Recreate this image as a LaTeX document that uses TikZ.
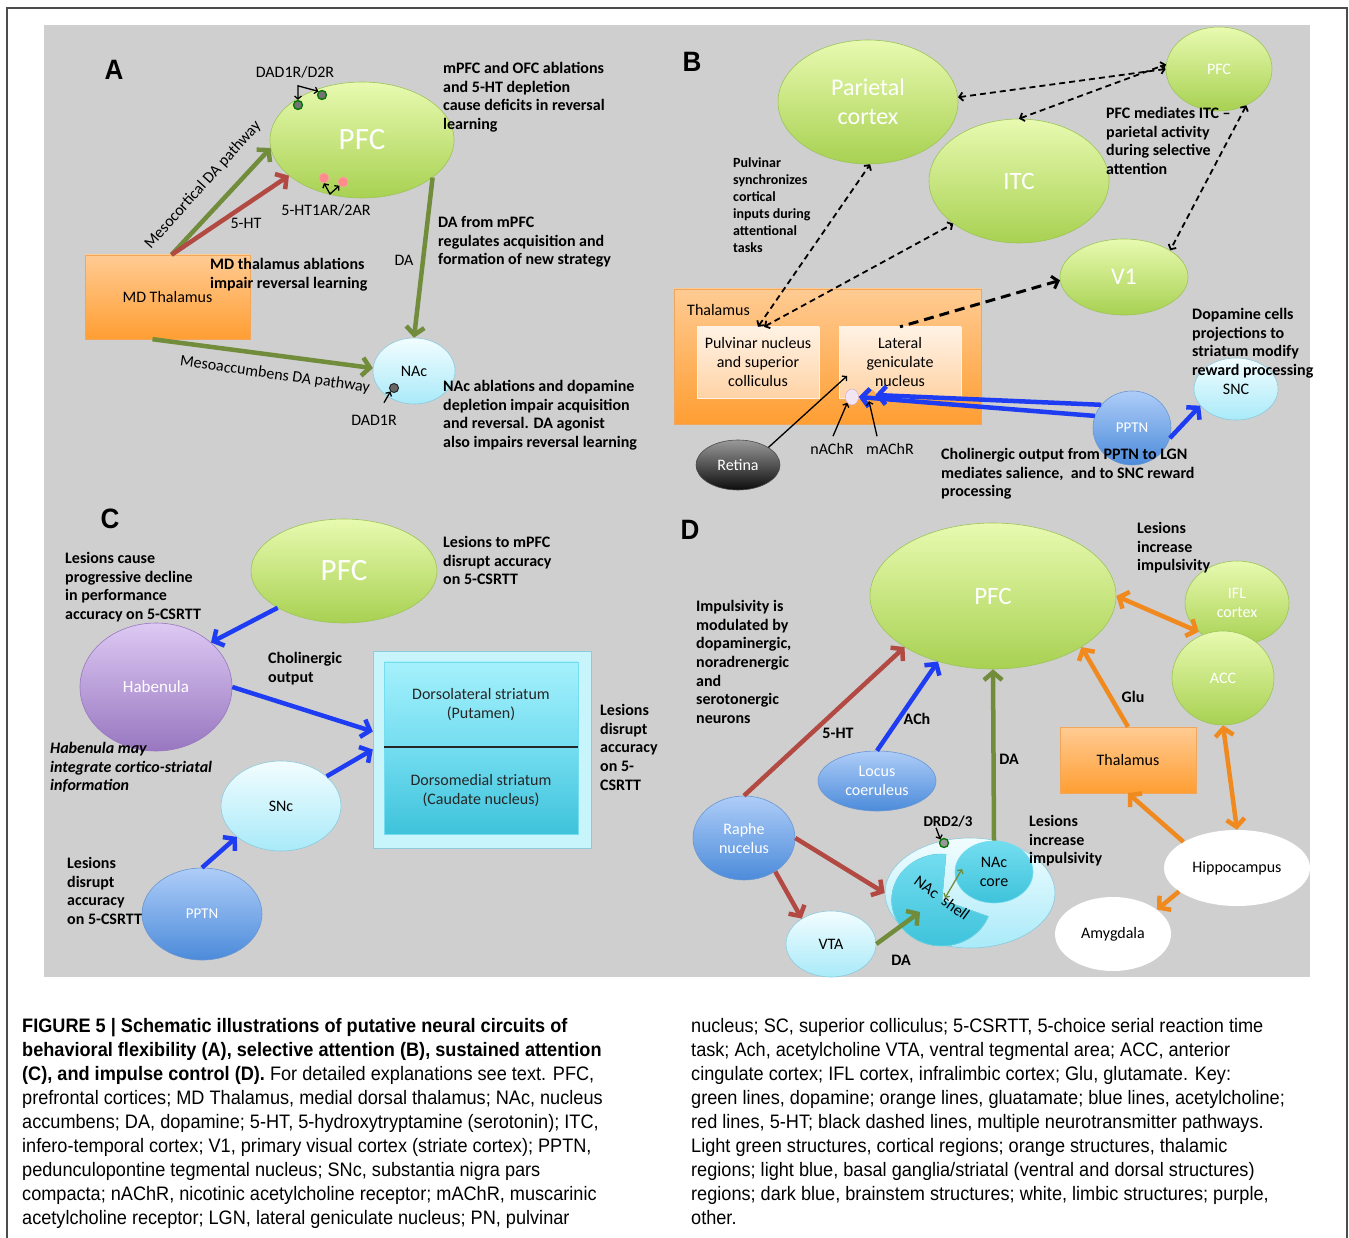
\documentclass[tikz,border=0pt]{standalone}
\usepackage{fontspec}
\setmainfont{Carlito}
\newfontfamily\capfont{Liberation Sans}[FakeStretch=0.93]
\usetikzlibrary{shapes.geometric,arrows.meta}

\definecolor{panelgray}{HTML}{CFCFCF}
\definecolor{grntop}{HTML}{E8FAB0}
\definecolor{grnbot}{HTML}{A8D152}
\definecolor{grnline}{HTML}{9CC45A}
\definecolor{ortop}{HTML}{FFCB93}
\definecolor{orbot}{HTML}{FF9E33}
\definecolor{orline}{HTML}{F2A65A}
\definecolor{lbtop}{HTML}{F2FDFF}
\definecolor{lbbot}{HTML}{A9EAF9}
\definecolor{lbline}{HTML}{8CCADC}
\definecolor{dbtop}{HTML}{AECDF8}
\definecolor{dbbot}{HTML}{4C8BDA}
\definecolor{dbline}{HTML}{6A97D2}
\definecolor{purtop}{HTML}{DDC9F3}
\definecolor{purbot}{HTML}{9877C0}
\definecolor{cytop}{HTML}{A5F1FC}
\definecolor{cymid}{HTML}{74DDF0}
\definecolor{cybot}{HTML}{3EC3DB}
\definecolor{cyout}{HTML}{C8F5FC}
\definecolor{peachtop}{HTML}{FFF2E4}
\definecolor{peachbot}{HTML}{FFD3A6}
\definecolor{daline}{HTML}{718D3B}
\definecolor{htline}{HTML}{B24A43}
\definecolor{achline}{HTML}{1E3DF2}
\definecolor{gluline}{HTML}{F08A1E}

\newcommand\fs[2]{\fontsize{#1}{#2}\selectfont}

\tikzset{
  >={Straight Barb[length=1pt 1.5,width=2pt 3.6]},
  region/.style={ellipse, inner sep=0pt, line width=0.6pt, align=center},
  cortex/.style={region, draw=grnline, top color=grntop, bottom color=grnbot, text=white},
  basal/.style={region, draw=lbline, top color=lbtop, bottom color=lbbot},
  brainstem/.style={region, draw=dbline, top color=dbtop, bottom color=dbbot, text=white},
  limbic/.style={region, fill=white},
  purple/.style={region, draw=purbot, top color=purtop, bottom color=purbot, text=white},
  retina/.style={region, draw=black!70, top color=black!40, bottom color=black!95, text=white},
  thalbox/.style={rectangle, inner sep=0pt, draw=orline, top color=ortop, bottom color=orbot, align=center},
  subbox/.style={rectangle, inner sep=0pt, draw=peachtop, top color=peachtop, bottom color=peachbot, align=center},
  rcpgreen/.style={circle, inner sep=0pt, minimum size=9pt, fill=black!55, draw=green!45!black, line width=1.3pt},
  rcpred/.style={circle, inner sep=0pt, minimum size=10pt, fill=red!45!white, draw=red!35!white},
  rcpdark/.style={circle, inner sep=0pt, minimum size=9pt, fill=black!60, draw=black!85, line width=1pt},
  note/.style={anchor=north west, align=left, inner sep=0pt, font=\bfseries\fs{16}{18.7}},
  lbl/.style={inner sep=0pt, font=\fs{16}{19}},
  panel/.style={inner sep=0pt, font=\capfont\bfseries\fs{28}{30}},
  da/.style={->, daline, line width=4.5pt},
  ht/.style={->, htline, line width=4.5pt},
  ach/.style={->, achline, line width=4.5pt},
  glu/.style={->, gluline, line width=4.5pt},
  multipath/.style={<->, black, line width=1.8pt, dash pattern=on 6pt off 4pt},
  pointer/.style={->, black, line width=1.3pt},
}

\begin{document}
\begin{tikzpicture}[x=1pt,y=-1pt]
  %%%%% PAGE %%%%%
  \useasboundingbox (0,0) rectangle (1349,1238);
  \fill[white] (0,0) rectangle (1349,1238);
  \draw[black!70, line width=1.5pt] (7,1238) -- (7,8) -- (1347,8) -- (1347,1238);
  \fill[panelgray] (44,25) rectangle (1310,977);

  %%%%% A %%%%%
  \node[panel] (labA) at (114,70) {A};
  \node[cortex, minimum width=184pt, minimum height=116pt, font=\fs{31}{33}] (pfcA) at (362,140) {PFC};
  \node[thalbox, minimum width=165pt, minimum height=84pt, font=\fs{16}{19}] (mdA) at (167.5,297) {MD Thalamus};
  \node[basal, minimum width=82pt, minimum height=66pt, font=\fs{16}{19}] (nacA) at (414,371) {NAc};

  \node[rcpgreen] (d1A) at (298,105) {};
  \node[rcpgreen] (d2A) at (322,95) {};
  \node[rcpred] (h1A) at (324,178) {};
  \node[rcpred] (h2A) at (343,182) {};
  \node[rcpdark] (daA) at (394,388) {};

  \node[lbl] (lblDd) at (295,72) {DAD1R/D2R};
  \node[lbl] (lblHt) at (326,210) {5-HT1AR/2AR};
  \node[lbl] (lblD1) at (374,420) {DAD1R};
  \draw[pointer, <->] (d1A.north) -- ++(0,-14) -- (d2A.north west);
  \draw[pointer, <->] (h1A.south) -- (330,194) -- (h2A.south west);
  \draw[pointer] ([xshift=10pt,yshift=12pt]lblD1.north) -- (daA.south west);

  \draw[da] ([xshift=4pt]mdA.north) -- (pfcA.185);
  \draw[ht] ([xshift=4pt]mdA.north) -- (pfcA.206);
  \draw[da] (pfcA.332) -- (nacA.north);
  \draw[da] ([xshift=-15pt]mdA.south) -- (nacA.176);

  \node[lbl, rotate=48] (lblMeso) at (203,185) {Mesocortical DA pathway};
  \node[lbl, rotate=-8] (lblAcc) at (275,375) {Mesoaccumbens DA pathway};
  \node[lbl] (lbl5htA) at (246,223) {5-HT};
  \node[lbl] (lblDaA) at (404,260) {DA};

  \node[note] (noteA1) at (443,62) {mPFC and OFC ablations\\and 5-HT depletion\\cause deficits in reversal\\learning};
  \node[note] (noteA2) at (210,258) {MD thalamus ablations\\impair reversal learning};
  \node[note] (noteA3) at (438,216) {DA from mPFC\\regulates acquisition and\\formation of new strategy};
  \node[note] (noteA4) at (443,380) {NAc ablations and dopamine\\depletion impair acquisition\\and reversal. DA agonist\\also impairs reversal learning};

  %%%%% B %%%%%
  \node[panel] (labB) at (692,62) {B};
  \node[cortex, minimum width=180pt, minimum height=124pt, font=\fs{24}{29}] (parB) at (868,102) {Parietal\\cortex};
  \node[cortex, minimum width=106pt, minimum height=84pt, font=\fs{16}{19}] (pfcB) at (1219,69) {PFC};
  \node[cortex, minimum width=180pt, minimum height=124pt, font=\fs{25}{28}] (itcB) at (1019,181) {ITC};
  \node[cortex, minimum width=128pt, minimum height=76pt, font=\fs{24}{28}] (v1B) at (1124,277) {V1};

  \node[thalbox, minimum width=307pt, minimum height=135pt] (thalB) at (827.5,356.5) {};
  \node[lbl, anchor=west] (thalLbl) at (687,310) {Thalamus};
  \node[subbox, minimum width=122pt, minimum height=71pt, font=\fs{16}{19}] (pulvB) at (758,362.5) {Pulvinar nucleus\\and superior\\colliculus};
  \node[subbox, minimum width=122pt, minimum height=71pt, font=\fs{16}{19}] (lgnB) at (900,362.5) {Lateral\\geniculate\\nucleus};
  \node[circle, inner sep=0pt, minimum size=12pt, fill=orbot!70!ortop, draw=orbot] (machB) at (869,395) {};
  \node[ellipse, inner sep=0pt, minimum width=13pt, minimum height=16pt, fill=violet!10, draw=violet!35] (nachB) at (852,397) {};

  \node[retina, minimum width=84pt, minimum height=50pt, font=\fs{16}{19}] (retB) at (738,465) {Retina};
  \node[brainstem, minimum width=78pt, minimum height=74pt, font=\fs{15}{18}] (pptnB) at (1132,428) {PPTN};
  \node[basal, minimum width=84pt, minimum height=62pt, font=\fs{16}{19}] (sncB) at (1236,389) {SNC};

  \draw[multipath] (parB.3) -- (pfcB.180);
  \draw[multipath] (itcB.north) -- (pfcB.175);
  \draw[multipath] (pulvB.north) -- (parB.272);
  \draw[multipath] ([xshift=6pt]pulvB.north) -- (itcB.213);
  \draw[multipath, <-, line width=3pt, dash pattern=on 10pt off 6pt] (v1B.183) -- (lgnB.north);
  \draw[multipath] (pfcB.307) -- (v1B.30);

  \draw[ach] (pptnB.143) -- (machB.east);
  \draw[ach] (pptnB.162) -- (nachB.east);
  \draw[ach] (pptnB.345) -- (sncB.205);

  \coordinate (lgnIn) at (847,376);
  \draw[pointer] (retB.30) -- (lgnIn);
  \node[lbl] (nLbl) at (832,449) {nAChR};
  \node[lbl] (mLbl) at (890,449) {mAChR};
  \draw[pointer] ([xshift=1pt,yshift=7pt]nLbl.north) -- (nachB.south west);
  \draw[pointer] ([xshift=-13pt,yshift=7pt]mLbl.north) -- (machB.south);

  \node[note, font=\bfseries\fs{14}{17}] (noteB1) at (733,157.5) {Pulvinar\\synchronizes\\cortical\\inputs during\\attentional\\tasks};
  \node[note] (noteB2) at (1106,107) {PFC mediates ITC --\\parietal activity\\during selective\\attention};
  \node[note] (noteB3) at (1192,308) {Dopamine cells\\projections to\\striatum modify\\reward processing};
  \node[note] (noteB4) at (941,448) {Cholinergic output from PPTN to LGN\\mediates salience,\ \ and to SNC reward\\processing};

  %%%%% C %%%%%
  \node[panel] (labC) at (110,519) {C};
  \node[cortex, minimum width=186pt, minimum height=104pt, font=\fs{31}{33}] (pfcC) at (344,571) {PFC};
  \node[purple, minimum width=152pt, minimum height=128pt, font=\fs{17}{20}] (habC) at (156,687) {Habenula};
  \node[basal, minimum width=120pt, minimum height=90pt, font=\fs{16}{19}] (sncC) at (281,806) {SNc};
  \node[brainstem, minimum width=120pt, minimum height=92pt, font=\fs{15}{18}] (pptnC) at (202,914) {PPTN};

  \node[rectangle, inner sep=0pt, minimum width=218pt, minimum height=197pt, fill=cyout, draw=lbline] (strC) at (482,749.5) {};
  \node[rectangle, inner sep=0pt, minimum width=194pt, minimum height=85pt, top color=cytop, bottom color=cymid, draw=cymid, anchor=south, align=center, font=\fs{16}{19}, text=black!85] (dlsC) at (481,747) {Dorsolateral striatum\\(Putamen)};
  \node[rectangle, inner sep=0pt, minimum width=194pt, minimum height=87pt, top color=cymid, bottom color=cybot, draw=cymid, anchor=north, align=center, font=\fs{16}{19}, text=black!85] (dmsC) at (481,747) {Dorsomedial striatum\\(Caudate nucleus)};
  \draw[line width=1.6pt, black!85] (dlsC.south west) -- (dlsC.south east);

  \draw[ach] (pfcC.209) -- (habC.39);
  \draw[ach] (habC.east) -- ([yshift=18pt]strC.west);
  \draw[ach] (sncC.33) -- (strC.west);
  \draw[ach] (pptnC.north) -- (sncC.215);

  \node[note] (noteC1) at (65,552) {Lesions cause\\progressive decline\\in performance\\accuracy on 5-CSRTT};
  \node[note] (noteC2) at (443,536) {Lesions to mPFC\\disrupt accuracy\\on 5-CSRTT};
  \node[note] (noteC3) at (268,652) {Cholinergic\\output};
  \node[note, font=\bfseries\itshape\fs{16}{18.7}] (noteC4) at (50,742) {Habenula may\\integrate cortico-striatal\\information};
  \node[note] (noteC5) at (600,704) {Lesions\\disrupt\\accuracy\\on 5-\\CSRTT};
  \node[note] (noteC6) at (67,857) {Lesions\\disrupt\\accuracy\\on 5-CSRTT};

  %%%%% D %%%%%
  \node[panel] (labD) at (690,530) {D};
  \node[cortex, minimum width=246pt, minimum height=146pt, font=\fs{25}{28}] (pfcD) at (993,596) {PFC};
  \node[cortex, minimum width=104pt, minimum height=84pt, font=\fs{16}{19}] (iflD) at (1237,603) {IFL\\cortex};
  \node[cortex, minimum width=102pt, minimum height=94pt, font=\fs{16}{19}] (accD) at (1223,678) {ACC};
  \node[thalbox, minimum width=136pt, minimum height=66pt, font=\fs{16}{19}] (thalD) at (1128,760) {Thalamus};
  \node[limbic, minimum width=146pt, minimum height=76pt, font=\fs{16}{19}] (hipD) at (1237,868) {Hippocampus};
  \node[limbic, minimum width=116pt, minimum height=74pt, font=\fs{16}{19}] (amyD) at (1113,934) {Amygdala};
  \node[brainstem, minimum width=118pt, minimum height=60pt, font=\fs{16}{19}] (locD) at (877,781) {Locus\\coeruleus};
  \node[brainstem, minimum width=102pt, minimum height=84pt, font=\fs{16}{19}] (rapD) at (744,838) {Raphe\\nucelus};
  \node[basal, minimum width=90pt, minimum height=66pt, font=\fs{16}{19}] (vtaD) at (831,944) {VTA};
  \node[basal, minimum width=170pt, minimum height=110pt] (nacD) at (970,893) {};

  \coordinate (shellC) at (942,900);
  \filldraw[draw=cymid, top color=cymid, bottom color=cybot, line width=0.6pt] (shellC) -- ++(-85:46) arc[start angle=-85, end angle=-339, x radius=50, y radius=46] -- cycle;
  \node[inner sep=0pt, rotate=-36, font=\fs{16}{19}] (shellLbl) at (942,898) {NAc\ \ shell};
  \node[region, draw=cymid, top color=cymid, bottom color=cybot, minimum width=78pt, minimum height=62pt, font=\fs{16}{19}] (coreD) at (994,872) {NAc\\core};

  \node[rcpgreen, fill=black!40] (drdD) at (944,843) {};
  \node[lbl, font=\bfseries\fs{15}{18}] (lblDrd) at (948,822) {DRD2/3};
  \draw[pointer] ([xshift=-12pt]lblDrd.south) -- (drdD.north west);

  \draw[ht] (rapD.north) -- (pfcD.210);
  \draw[ach] (locD.north) -- (pfcD.230);
  \draw[da] (coreD.north) -- (pfcD.south);
  \draw[glu] (thalD.north) -- (pfcD.330);
  \draw[glu, <->] (pfcD.east) -- (iflD.217);
  \draw[glu, <->] (accD.south) -- (hipD.north);
  \draw[glu] (hipD.154) -- (thalD.south);
  \draw[glu] (hipD.202) -- (amyD.29);
  \draw[ht] (rapD.east) -- (nacD.180);
  \draw[ht] (rapD.313) -- (vtaD.139);
  \coordinate (shellIn) at (920,912);
  \draw[da] (vtaD.east) -- (shellIn);
  \coordinate (shellTip) at (945,898);
  \coordinate (coreTip) at (962,869);
  \draw[da, <->, line width=1.3pt] (shellTip) -- (coreTip);

  \node[lbl, font=\bfseries\fs{16}{19}] (lbl5htD) at (838,733) {5-HT};
  \node[lbl, font=\bfseries\fs{16}{19}] (lblAchD) at (917,719) {ACh};
  \node[lbl, font=\bfseries\fs{16}{19}] (lblDaD) at (1009,759) {DA};
  \node[lbl, font=\bfseries\fs{16}{19}] (lblGluD) at (1133,697) {Glu};
  \node[lbl, font=\bfseries\fs{16}{19}] (lblDaV) at (901,960) {DA};

  \node[note] (noteD1) at (1137,522) {Lesions\\increase\\impulsivity};
  \node[note] (noteD2) at (696,600) {Impulsivity is\\modulated by\\dopaminergic,\\noradrenergic\\and\\serotonergic\\neurons};
  \node[note] (noteD3) at (1029,815) {Lesions\\increase\\impulsivity};

  %%%%% CAPTION %%%%%
  \node[anchor=north west, align=left, inner sep=0pt, font=\capfont\fs{19.5}{24}] (capL) at (22,1018) {\textbf{FIGURE 5 | Schematic illustrations of putative neural circuits of}\\
    \textbf{behavioral flexibility (A), selective attention (B), sustained attention}\\
    \textbf{(C), and impulse control (D).} For detailed explanations see text. PFC,\\
    prefrontal cortices; MD Thalamus, medial dorsal thalamus; NAc, nucleus\\
    accumbens; DA, dopamine; 5-HT, 5-hydroxytryptamine (serotonin); ITC,\\
    infero-temporal cortex; V1, primary visual cortex (striate cortex); PPTN,\\
    pedunculopontine tegmental nucleus; SNc, substantia nigra pars\\
    compacta; nAChR, nicotinic acetylcholine receptor; mAChR, muscarinic\\
    acetylcholine receptor; LGN, lateral geniculate nucleus; PN, pulvinar};
  \node[anchor=north west, align=left, inner sep=0pt, font=\capfont\fs{19.5}{24}] (capR) at (691,1018) {nucleus; SC, superior colliculus; 5-CSRTT, 5-choice serial reaction time\\
    task; Ach, acetylcholine VTA, ventral tegmental area; ACC, anterior\\
    cingulate cortex; IFL cortex, infralimbic cortex; Glu, glutamate. Key:\\
    green lines, dopamine; orange lines, gluatamate; blue lines, acetylcholine;\\
    red lines, 5-HT; black dashed lines, multiple neurotransmitter pathways.\\
    Light green structures, cortical regions; orange structures, thalamic\\
    regions; light blue, basal ganglia/striatal (ventral and dorsal structures)\\
    regions; dark blue, brainstem structures; white, limbic structures; purple,\\
    other.};
\end{tikzpicture}
\end{document}
